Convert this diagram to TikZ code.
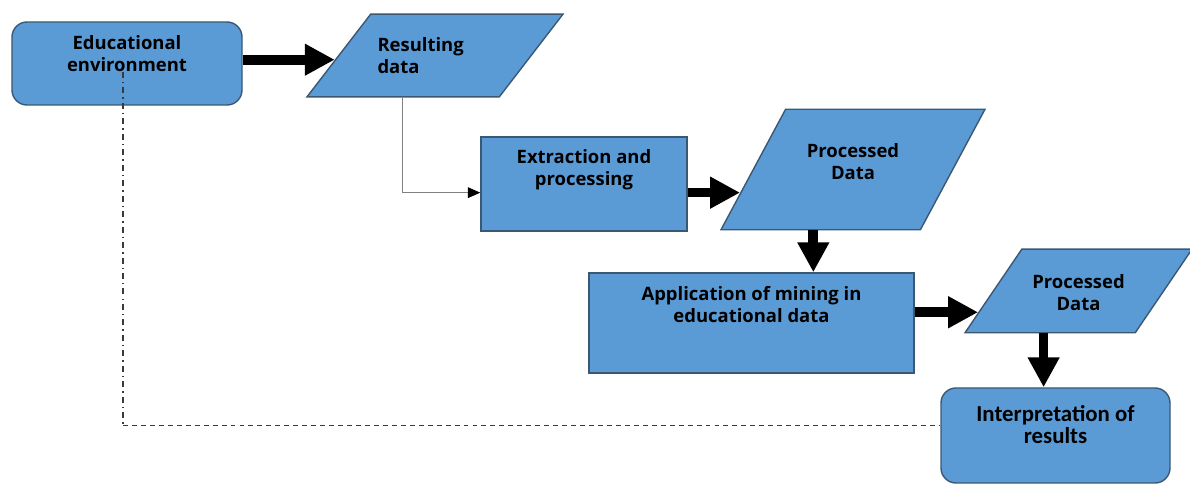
\documentclass[tikz,border=0pt]{standalone}
\usepackage{fontspec}
\setmainfont{Open Sans}
\newfontfamily\narrowfont{Carlito}
\usepackage{tikz}
\usetikzlibrary{positioning, arrows.meta, calc, shapes.geometric}

\definecolor{boxblue}{HTML}{5B9BD5}
\definecolor{boxedge}{HTML}{3B5873}
\definecolor{linegray}{HTML}{3A3A3A}

\begin{document}
\begin{tikzpicture}[
    box/.style={draw=boxedge, fill=boxblue, line width=0.8pt, align=center,
        font=\bfseries\fontsize{10.5}{12.5}\selectfont},
    roundbox/.style={box, rounded corners=0.3cm},
    databox/.style={box, trapezium, trapezium stretches body=true, inner xsep=0pt},
    bigarrow/.style={line width=5.5pt, -{Triangle[length=17pt, width=17pt]}},
    thinarrow/.style={draw=gray, line width=0.7pt, -{Triangle[length=7pt, width=6pt, color=black]}},
    backline/.style={draw=linegray, line width=1pt, dash pattern=on 3.4pt off 2.3pt on 0.8pt off 2.3pt},
    backlinedash/.style={draw=linegray, line width=1pt, dash pattern=on 2.8pt off 2.3pt}
]
    \useasboundingbox (0,0) rectangle (23.8,-9.68);

    % --- Blocchi ---
    \node[roundbox, minimum width=4.6cm, minimum height=1.66cm, text depth=11.3pt] (edu) at (2.54,-1.27) {Educational\\environment};
    \node[databox, trapezium left angle=52.4, trapezium right angle=127.6, minimum width=5.12cm,
          text width=2.3cm, align=left, text height=18.2pt, text depth=22.2pt] (res) at (8.70,-1.11) {Resulting\\data};
    \node[box, minimum width=4.12cm, minimum height=1.88cm, text depth=18.7pt] (ext) at (11.68,-3.68) {Extraction and\\processing};
    \node[databox, trapezium left angle=61.8, trapezium right angle=118.2, minimum width=5.28cm,
          text width=2.2cm, text height=23.9pt, text depth=38pt] (p1) at (17.06,-3.39) {Processed\\Data};
    \node[box, minimum width=6.5cm, minimum height=2.0cm, text depth=21.5pt] (app) at (15.03,-6.46) {Application of mining in\\educational data};
    \node[databox, trapezium left angle=55.8, trapezium right angle=124.2, minimum width=4.54cm,
          text width=2.1cm, text height=18.8pt, text depth=22.1pt] (p2) at (21.57,-5.82) {Processed\\Data};
    \node[roundbox, minimum width=4.58cm, minimum height=1.9cm, text depth=13pt,
          font=\narrowfont\bfseries\fontsize{13}{12.5}\selectfont] (interp) at (21.11,-8.71) {Interpretation of\\results};

    % --- Frecce ---
    \coordinate (restip) at ($(res.bottom left corner)!0.45!(res.top left corner)$);
    \coordinate (p1tip) at ($(p1.bottom left corner)!0.31!(p1.top left corner)$);
    \coordinate (p2tip) at ($(p2.bottom left corner)!0.25!(p2.top left corner)$);
    \coordinate (p1out) at ([xshift=-0.14cm]p1.bottom side);
    \coordinate (p2out) at ([xshift=-0.12cm]p2.bottom side);

    \draw[bigarrow] (edu.east |- restip) -- (restip);
    \draw[thinarrow] (res.bottom side) |- (ext.west |- p1tip);
    \draw[bigarrow] (ext.east |- p1tip) -- (p1tip);
    \draw[bigarrow] (p1out) -- (p1out |- app.north);
    \draw[bigarrow] (app.east |- p2tip) -- (p2tip);
    \draw[bigarrow] (p2out) -- (p2out |- interp.north);

    % --- Ritorno ---
    \coordinate (edudown) at ([xshift=-0.08cm, yshift=-0.17cm]edu.center);
    \coordinate (interpin) at ([yshift=0.2cm]interp.west);
    \draw[backline] (edudown) -- (edudown |- interpin);
    \draw[backlinedash] (edudown |- interpin) -- (interpin);
\end{tikzpicture}
\end{document}
